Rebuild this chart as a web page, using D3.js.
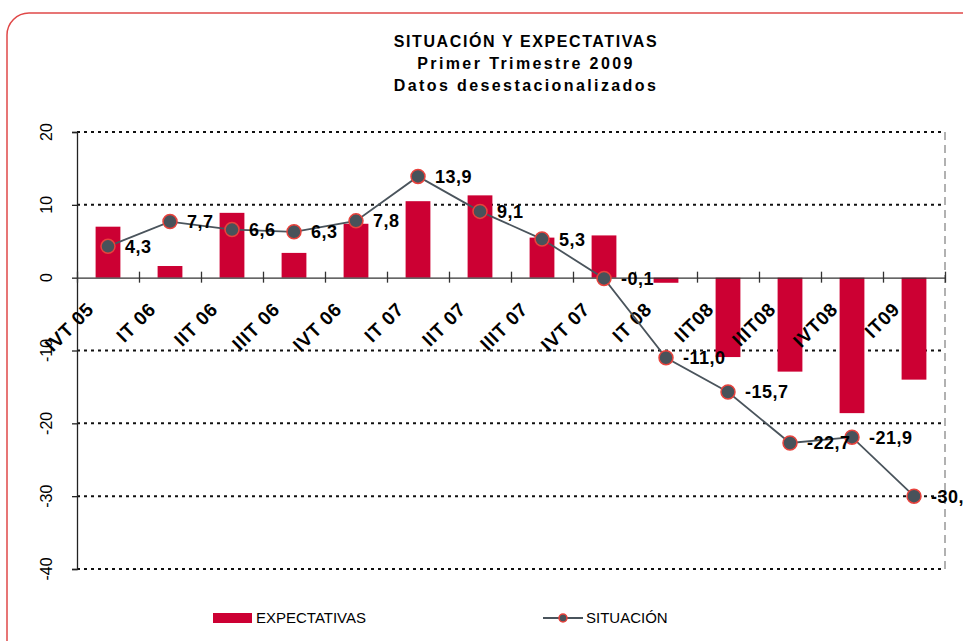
<!DOCTYPE html>
<html>
<head>
<meta charset="utf-8">
<script src="https://cdn.jsdelivr.net/npm/d3@7"></script>
<style>
  body { margin: 0; background: #fff; }
  svg { display: block; font-family: "Liberation Sans", Arial, sans-serif; }
</style>
</head>
<body>
<div id="chart"></div>
<script>
const width = 963;
const height = 641;
const margin = { top: 132, right: 18, bottom: 72, left: 77 };

// datos
const trimestres = ['IVT 05', 'IT 06', 'IIT 06', 'IIIT 06', 'IVT 06', 'IT 07', 'IIT 07',
  'IIIT 07', 'IVT 07', 'IT 08', 'IIT08', 'IIIT08', 'IVT08', 'IT09'];
const expectativas = [7.0, 1.6, 8.9, 3.4, 7.4, 10.5, 11.3, 5.5, 5.8, -0.7, -10.9, -12.9, -18.6, -14.0];
const situacion = [4.3, 7.7, 6.6, 6.3, 7.8, 13.9, 9.1, 5.3, -0.1, -11.0, -15.7, -22.7, -21.9, -30.0];
const yTicks = [-40, -30, -20, -10, 0, 10, 20];
const titulos = ['SITUACIÓN Y EXPECTATIVAS', 'Primer Trimestre 2009', 'Datos desestacionalizados'];

const barColor = '#cc0033';
const lineColor = '#4a545c';
const dotFill = '#48525a';
const dotStroke = '#e8423c';

const fmt = v => d3.format('.1f')(v).replace('.', ',').replace('−', '-');

const svg = d3.select('#chart')
  .append('svg')
  .attr('width', width)
  .attr('height', height);

// marco redondeado
svg.append('rect')
  .attr('x', 7).attr('y', 13)
  .attr('width', 980).attr('height', 660)
  .attr('rx', 22)
  .attr('fill', 'none')
  .attr('stroke', '#e04848')
  .attr('stroke-width', 1.5);

// titulo
svg.append('g')
  .attr('text-anchor', 'middle')
  .attr('font-weight', 'bold')
  .attr('font-size', 16)
  .selectAll('text')
  .data(titulos)
  .join('text')
  .attr('x', 526)
  .attr('y', (d, i) => 47 + i * 22)
  .attr('letter-spacing', (d, i) => i === 0 ? 1.6 : 2.4)
  .text(d => d);

// escalas
const x = d3.scaleBand()
  .domain(trimestres)
  .range([margin.left, width - margin.right])
  .paddingInner(0.6)
  .paddingOuter(0.3);

const xIdx = d3.scaleLinear()
  .domain([0, trimestres.length])
  .range([margin.left, width - margin.right]);

const y = d3.scaleLinear()
  .domain([-40, 20])
  .range([height - margin.bottom, margin.top]);

const cx = d => x(d) + x.bandwidth() / 2;

// rejilla
svg.append('g')
  .selectAll('line')
  .data(yTicks.filter(d => d !== 0))
  .join('line')
  .attr('x1', margin.left).attr('x2', width - margin.right)
  .attr('y1', d => y(d)).attr('y2', d => y(d))
  .attr('stroke', '#111')
  .attr('stroke-width', 2)
  .attr('stroke-dasharray', '3,4');

// borde derecho del area
svg.append('line')
  .attr('x1', width - margin.right).attr('x2', width - margin.right)
  .attr('y1', y(20)).attr('y2', y(-40))
  .attr('stroke', '#888')
  .attr('stroke-width', 1.3)
  .attr('stroke-dasharray', '8,5');

// barras
svg.append('g')
  .selectAll('rect')
  .data(trimestres)
  .join('rect')
  .attr('x', d => x(d))
  .attr('width', x.bandwidth())
  .attr('y', (d, i) => y(Math.max(0, expectativas[i])))
  .attr('height', (d, i) => Math.abs(y(expectativas[i]) - y(0)))
  .attr('fill', barColor);

// eje vertical
svg.append('g')
  .attr('transform', `translate(${margin.left},0)`)
  .call(d3.axisLeft(y).tickValues(yTicks).tickSize(5).tickFormat(''))
  .call(g => g.selectAll('path, line').attr('stroke', '#222').attr('stroke-width', 1.3));

svg.append('g')
  .attr('font-size', 16)
  .attr('text-anchor', 'middle')
  .selectAll('text')
  .data(yTicks)
  .join('text')
  .attr('transform', d => `translate(52,${y(d)}) rotate(-90)`)
  .text(d => d);

// eje horizontal (en cero)
svg.append('g')
  .attr('transform', `translate(0,${y(0)})`)
  .call(d3.axisBottom(xIdx).ticks(trimestres.length).tickSizeInner(5).tickSizeOuter(0).tickFormat(''))
  .call(g => g.selectAll('path, line').attr('stroke', '#333').attr('stroke-width', 1.3))
  .call(g => g.selectAll('.tick line').attr('y1', -6));

svg.append('g')
  .attr('font-size', 19)
  .attr('font-weight', 'bold')
  .attr('letter-spacing', 0.6)
  .attr('text-anchor', 'end')
  .selectAll('text')
  .data(trimestres)
  .join('text')
  .attr('transform', d => `translate(${cx(d) - 13},${y(0) + 33}) rotate(-45)`)
  .text(d => d);

// linea situacion
const line = d3.line()
  .x((d, i) => cx(trimestres[i]))
  .y(d => y(d));

svg.append('path')
  .datum(situacion)
  .attr('d', line)
  .attr('fill', 'none')
  .attr('stroke', lineColor)
  .attr('stroke-width', 1.8);

svg.append('g')
  .selectAll('circle')
  .data(situacion)
  .join('circle')
  .attr('cx', (d, i) => cx(trimestres[i]))
  .attr('cy', d => y(d))
  .attr('r', 7)
  .attr('fill', dotFill)
  .attr('stroke', dotStroke)
  .attr('stroke-width', 1.5);

// etiquetas de datos
svg.append('g')
  .attr('font-size', 18)
  .attr('font-weight', 'bold')
  .attr('letter-spacing', 0.5)
  .selectAll('text')
  .data(situacion)
  .join('text')
  .attr('x', (d, i) => cx(trimestres[i]) + 17)
  .attr('y', d => y(d))
  .attr('dy', '0.36em')
  .text(d => fmt(d));

// leyenda
const legend = svg.append('g').attr('font-size', 15);
legend.append('rect')
  .attr('x', 213).attr('y', 613)
  .attr('width', 39).attr('height', 10)
  .attr('fill', barColor);
legend.append('text')
  .attr('x', 256).attr('y', 618).attr('dy', '0.35em')
  .text('EXPECTATIVAS');
legend.append('line')
  .attr('x1', 543).attr('x2', 583)
  .attr('y1', 618).attr('y2', 618)
  .attr('stroke', lineColor).attr('stroke-width', 1.8);
legend.append('circle')
  .attr('cx', 563).attr('cy', 618).attr('r', 4)
  .attr('fill', dotFill).attr('stroke', dotStroke).attr('stroke-width', 1.5);
legend.append('text')
  .attr('x', 586).attr('y', 618).attr('dy', '0.35em')
  .text('SITUACIÓN');
</script>
</body>
</html>
